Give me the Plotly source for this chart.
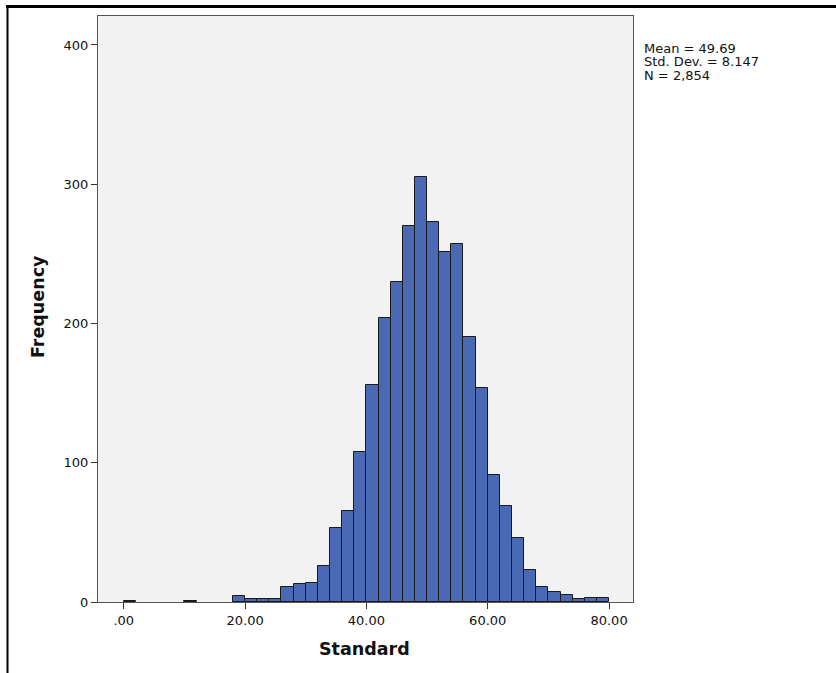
import plotly.graph_objects as go

# Histogram bins (width 2) – left edges and counts
bin_left = [0, 10, 18, 20, 22, 24, 26, 28, 30, 32, 34, 36, 38, 40, 42, 44, 46, 48,
            50, 52, 54, 56, 58, 60, 62, 64, 66, 68, 70, 72, 74, 76, 78]
counts = [1, 1, 4, 2, 2, 2, 11, 13, 14, 26, 53, 65, 108, 156, 204, 230, 270, 305,
          273, 251, 257, 190, 154, 91, 69, 46, 23, 11, 7, 5, 2, 3, 3]
bin_width = 2

x_ticks = [0, 20, 40, 60, 80]
x_tick_labels = [".00", "20.00", "40.00", "60.00", "80.00"]
y_ticks = [0, 100, 200, 300, 400]

stats_lines = ["Mean = 49.69", "Std. Dev. = 8.147", "N = 2,854"]
x_title = "Standard"
y_title = "Frequency"

W, H = 836, 673
L, R, T, B = 98, 633, 16, 602  # plot area in pixels

def px_x(p):
    return (p - L) / (R - L)

def px_y(p):
    return (B - p) / (B - T)

centers = [b + bin_width / 2 for b in bin_left]

fig = go.Figure()
fig.add_trace(go.Bar(
    x=centers, y=counts, width=bin_width,
    marker=dict(color="#4a69b5", line=dict(color="#1a1a1a", width=1)),
    hoverinfo="x+y", showlegend=False,
))

font_family = "DejaVu Sans"

fig.update_layout(
    width=W, height=H,
    margin=dict(l=L, r=W - R, t=T, b=H - B, pad=0),
    paper_bgcolor="white",
    plot_bgcolor="#f2f2f2",
    bargap=0,
    font=dict(family=font_family, size=13, color="#111"),
    xaxis=dict(
        range=[-4.25, 83.95], tickvals=x_ticks, ticktext=x_tick_labels,
        ticks="outside", ticklen=6, tickcolor="#333", tickwidth=1,
        showgrid=False, zeroline=False, showline=True, mirror=True,
        linecolor="#555", linewidth=1, tickfont=dict(size=13, color="#111"),
    ),
    yaxis=dict(
        range=[0, 420.8], tickvals=y_ticks,
        ticks="outside", ticklen=6, tickcolor="#333", tickwidth=1,
        showgrid=False, zeroline=False, showline=True, mirror=True,
        linecolor="#555", linewidth=1, tickfont=dict(size=13, color="#111"),
    ),
)

annotations = []
for i, line in enumerate(stats_lines):
    annotations.append(dict(
        xref="paper", yref="paper", x=px_x(642), y=px_y(49 + 13 * i),
        xanchor="left", yanchor="middle", text=line, showarrow=False,
        font=dict(family=font_family, size=13, color="#111"),
    ))
annotations.append(dict(
    xref="paper", yref="paper", x=px_x(364), y=px_y(649),
    xanchor="center", yanchor="middle", text="<b>%s</b>" % x_title, showarrow=False,
    font=dict(family=font_family, size=17.5, color="#111"),
))
annotations.append(dict(
    xref="paper", yref="paper", x=px_x(38), y=px_y(307),
    xanchor="center", yanchor="middle", text="<b>%s</b>" % y_title, showarrow=False,
    textangle=-90, font=dict(family=font_family, size=17.5, color="#111"),
))
fig.update_layout(annotations=annotations)

# Outer black frame (top and left edges)
fig.add_shape(type="line", xref="paper", yref="paper",
              x0=px_x(6), x1=px_x(W + 5), y0=px_y(6.5), y1=px_y(6.5),
              line=dict(color="black", width=3))
fig.add_shape(type="line", xref="paper", yref="paper",
              x0=px_x(7.5), x1=px_x(7.5), y0=px_y(5), y1=px_y(H + 5),
              line=dict(color="black", width=2))

fig.write_html("out.html")
